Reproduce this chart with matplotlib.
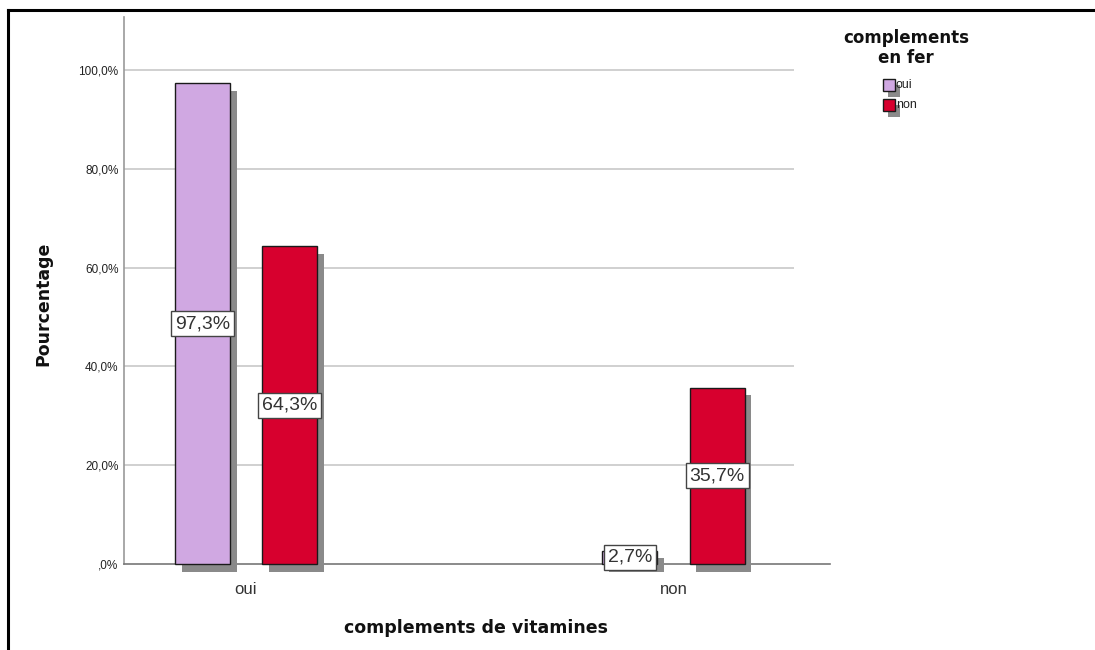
import matplotlib
matplotlib.use("Agg")
import matplotlib.pyplot as plt
import matplotlib.patheffects as pe
from matplotlib.patches import Rectangle
from matplotlib.lines import Line2D
import numpy as np

plt.rcParams["font.family"] = ["Liberation Sans", "DejaVu Sans"]

# Pourcentages par modalité de "complements de vitamines", selon "complements en fer"
categories = ["oui", "non"]
series_names = ["oui", "non"]
pct_fer_oui = [97.3, 2.7]
pct_fer_non = [64.3, 35.7]
yticks = [0, 20, 40, 60, 80, 100]

colors = ["#D0A8E2", "#D7002E"]
shadow_col = "#8A8A8A"

W, H, DPI = 1095, 650, 100
fig = plt.figure(figsize=(W / DPI, H / DPI), dpi=DPI)

# zone du graphique en pixels : x 124..830, y 17..564
ax = fig.add_axes([124 / W, (H - 564) / H, 706 / W, 547 / H])

x = np.arange(len(categories))
width = 0.1287
off = 0.1018
shadow = [pe.SimplePatchShadow(offset=(5, -5.5), shadow_rgbFace=shadow_col, alpha=1.0), pe.Normal()]

for vals, dx, c in [(pct_fer_oui, -off, colors[0]), (pct_fer_non, off, colors[1])]:
    bars = ax.bar(x + dx, vals, width, color=c, edgecolor="#1a1a1a", linewidth=1.0, zorder=3, clip_on=False)
    for b, v in zip(bars, vals):
        b.set_path_effects(shadow)
        ax.text(b.get_x() + b.get_width() / 2, v / 2, f"{v:.1f}%".replace(".", ","),
                ha="center", va="center", fontsize=14, color="#333333", zorder=5,
                bbox=dict(boxstyle="square,pad=0.2", fc="white", ec="#444444", lw=1.0))

ax.set_xlim(-0.285, 1.366)
ax.set_ylim(0, 110.7)

# lignes de grille jusqu'à la fin de la dernière catégorie
ax.hlines(yticks[1:], -0.285, 1.282, colors="#C8C8C8", linewidth=1.2, zorder=1)

ytl = []
for t in yticks:
    s = f"{t:.1f}%".replace(".", ",")
    ytl.append(",0%" if t == 0 else s)
ax.set_yticks(yticks)
ax.set_yticklabels(ytl, fontsize=8.5, color="#222222")
ax.set_xticks(x)
ax.set_xticklabels(categories, fontsize=12, color="#333333")
ax.tick_params(axis="both", length=0, pad=4)
ax.tick_params(axis="x", pad=13)

for s in ["top", "right"]:
    ax.spines[s].set_visible(False)
ax.spines["left"].set_color("#999999")
ax.spines["bottom"].set_color("#777777")
ax.spines["left"].set_linewidth(1.2)
ax.spines["bottom"].set_linewidth(1.2)

title_font = ["DejaVu Sans"]
fig.text(476 / W, 1 - 628 / H, "complements de vitamines", ha="center", va="center",
         fontsize=12.5, fontweight="bold", color="#111111", family=title_font)
fig.text(43 / W, 1 - 304 / H, "Pourcentage", ha="center", va="center", rotation=90,
         fontsize=12.5, fontweight="bold", color="#111111", family=title_font)

# légende
fig.text(906 / W, 1 - 48 / H, "complements\nen fer", ha="center", va="center",
         fontsize=12, fontweight="bold", color="#111111", linespacing=1.1, family=title_font)
for i, (name, c) in enumerate(zip(series_names, colors)):
    y0 = 1 - (91 + 20 * i) / H
    sh = Rectangle(((883 + 5) / W, y0 - 6 / H), 12 / W, 12 / H, transform=fig.transFigure,
                   fc=shadow_col, ec="none")
    sq = Rectangle((883 / W, y0), 12 / W, 12 / H, transform=fig.transFigure,
                   fc=c, ec="#1a1a1a", lw=1.0)
    fig.add_artist(sh)
    fig.add_artist(sq)
    fig.text(896 / W, y0 + 6 / H, name, ha="left", va="center", fontsize=9, color="#222222")

# cadre
fig.add_artist(Line2D([8 / W, 1], [1 - 10 / H, 1 - 10 / H], transform=fig.transFigure, color="black", lw=2.2))
fig.add_artist(Line2D([8 / W, 8 / W], [0, 1 - 10 / H], transform=fig.transFigure, color="black", lw=2.2))

fig.savefig("out.png", dpi=DPI, facecolor="white")
